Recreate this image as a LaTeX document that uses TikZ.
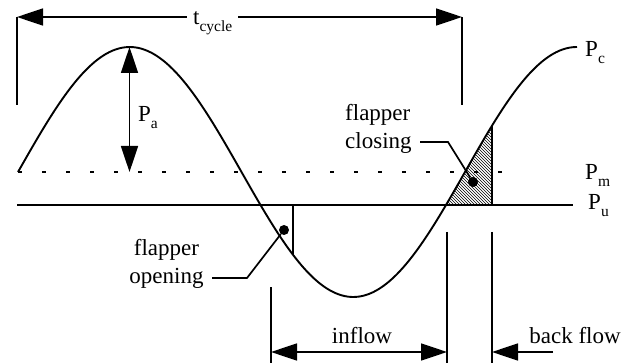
\documentclass[tikz,border=0pt]{standalone}
\usepackage{fontspec}
\setmainfont{Liberation Serif}
\usetikzlibrary{arrows.meta, patterns, calc}
\tikzset{
  >={Triangle[length=26pt, width=17pt]},
  line/.style={line width=1.7pt, draw=black},
  wave/.style={line width=1.9pt, draw=black},
  dim/.style={<->, line width=1.7pt},
  leader/.style={line width=1.7pt},
  lbl/.style={font=\fontsize{23}{28}\selectfont, inner sep=0pt},
  dotmark/.style={circle, fill=black, inner sep=0pt, minimum size=10pt},
}
\newcommand{\lowsub}[1]{\raisebox{-0.28em}{\fontsize{15.5}{16}\selectfont #1}}
\newcommand{\Pl}[1]{P\lowsub{#1}}

\begin{document}
\begin{tikzpicture}[x=1pt, y=-1pt]
  \useasboundingbox (0,0) rectangle (634,363);

  % cycle time
  \coordinate (tl) at (17,17);
  \coordinate (tr) at (462,17);
  \coordinate (tlb) at (17,105);
  \coordinate (trb) at (462,105);
  \draw[line] (tlb) -- (tl);
  \draw[line] (trb) -- (tr);
  \draw[dim] (tl) -- (tr);
  \node[lbl, fill=white, inner xsep=6pt, anchor=base west] (tcyc) at (187,25) {t\lowsub{cycle}};

  % pressure levels
  \coordinate (pml) at (18,172);
  \coordinate (pmr) at (505,172);
  \draw[line, dash pattern=on 4pt off 20pt] (pml) -- (pmr);
  \coordinate (pul) at (17,205);
  \coordinate (pur) at (573,205);
  \draw[wave] (pul) -- (pur);

  % back flow area
  \fill[pattern=north west lines]
    plot[domain=446.3:492, samples=30] (\x, {172-125*sin((\x-18)/447*360)})
    -- (492,205) -- cycle;
  \coordinate (hb) at (492,205);
  \coordinate (ht) at (492,126);
  \draw[line] (ht) -- (hb);

  % chamber pressure
  \draw[wave] plot[domain=18:577, samples=160, smooth] (\x, {172-125*sin((\x-18)/447*360)});

  % amplitude
  \coordinate (peak) at (129.5,47);
  \coordinate (pam) at (129.5,172);
  \draw[dim] (peak) -- (pam);
  \node[lbl, anchor=base west] (pa) at (138,122) {\Pl{a}};

  % labels at right
  \node[lbl, anchor=base west] (pc) at (585,57) {\Pl{c}};
  \node[lbl, anchor=base west] (pm) at (585,180) {\Pl{m}};
  \node[lbl, anchor=base west] (pu) at (588,210) {\Pl{u}};

  % flapper opening
  \node[dotmark] (odot) at (284,230) {};
  \coordinate (ov1) at (293,205);
  \coordinate (ov2) at (293,255);
  \draw[line] (ov1) -- (ov2);
  \node[lbl, align=center] (open) at (166.5,264) {flapper\\opening};
  \coordinate (lo) at (212,278);
  \coordinate (lo2) at (247,278);
  \draw[leader] (lo) -- (lo2) -- (odot);

  % flapper closing
  \node[dotmark] (cdot) at (473,182) {};
  \node[lbl, align=left, anchor=west] (close) at (345,128.5) {flapper\\closing};
  \coordinate (lc) at (420,142);
  \coordinate (lc2) at (448,142);
  \draw[leader] (lc) -- (lc2) -- (cdot);

  % inflow and back flow
  \coordinate (i1t) at (271,287);
  \coordinate (i1b) at (271,363);
  \coordinate (i2t) at (447,232);
  \coordinate (i2b) at (447,363);
  \coordinate (b1t) at (492,232);
  \coordinate (b1b) at (492,363);
  \draw[line] (i1t) -- (i1b);
  \draw[line] (i2t) -- (i2b);
  \draw[line] (b1t) -- (b1b);
  \coordinate (ia) at (271,352);
  \coordinate (ib) at (447,352);
  \draw[dim] (ia) -- (ib);
  \node[lbl, anchor=base] (inflow) at (362,343) {inflow};
  \coordinate (bs) at (553,352);
  \coordinate (be) at (492,352);
  \draw[->, line width=1.7pt] (bs) -- (be);
  \node[lbl, anchor=base] (back) at (575,343) {back flow};
\end{tikzpicture}
\end{document}
